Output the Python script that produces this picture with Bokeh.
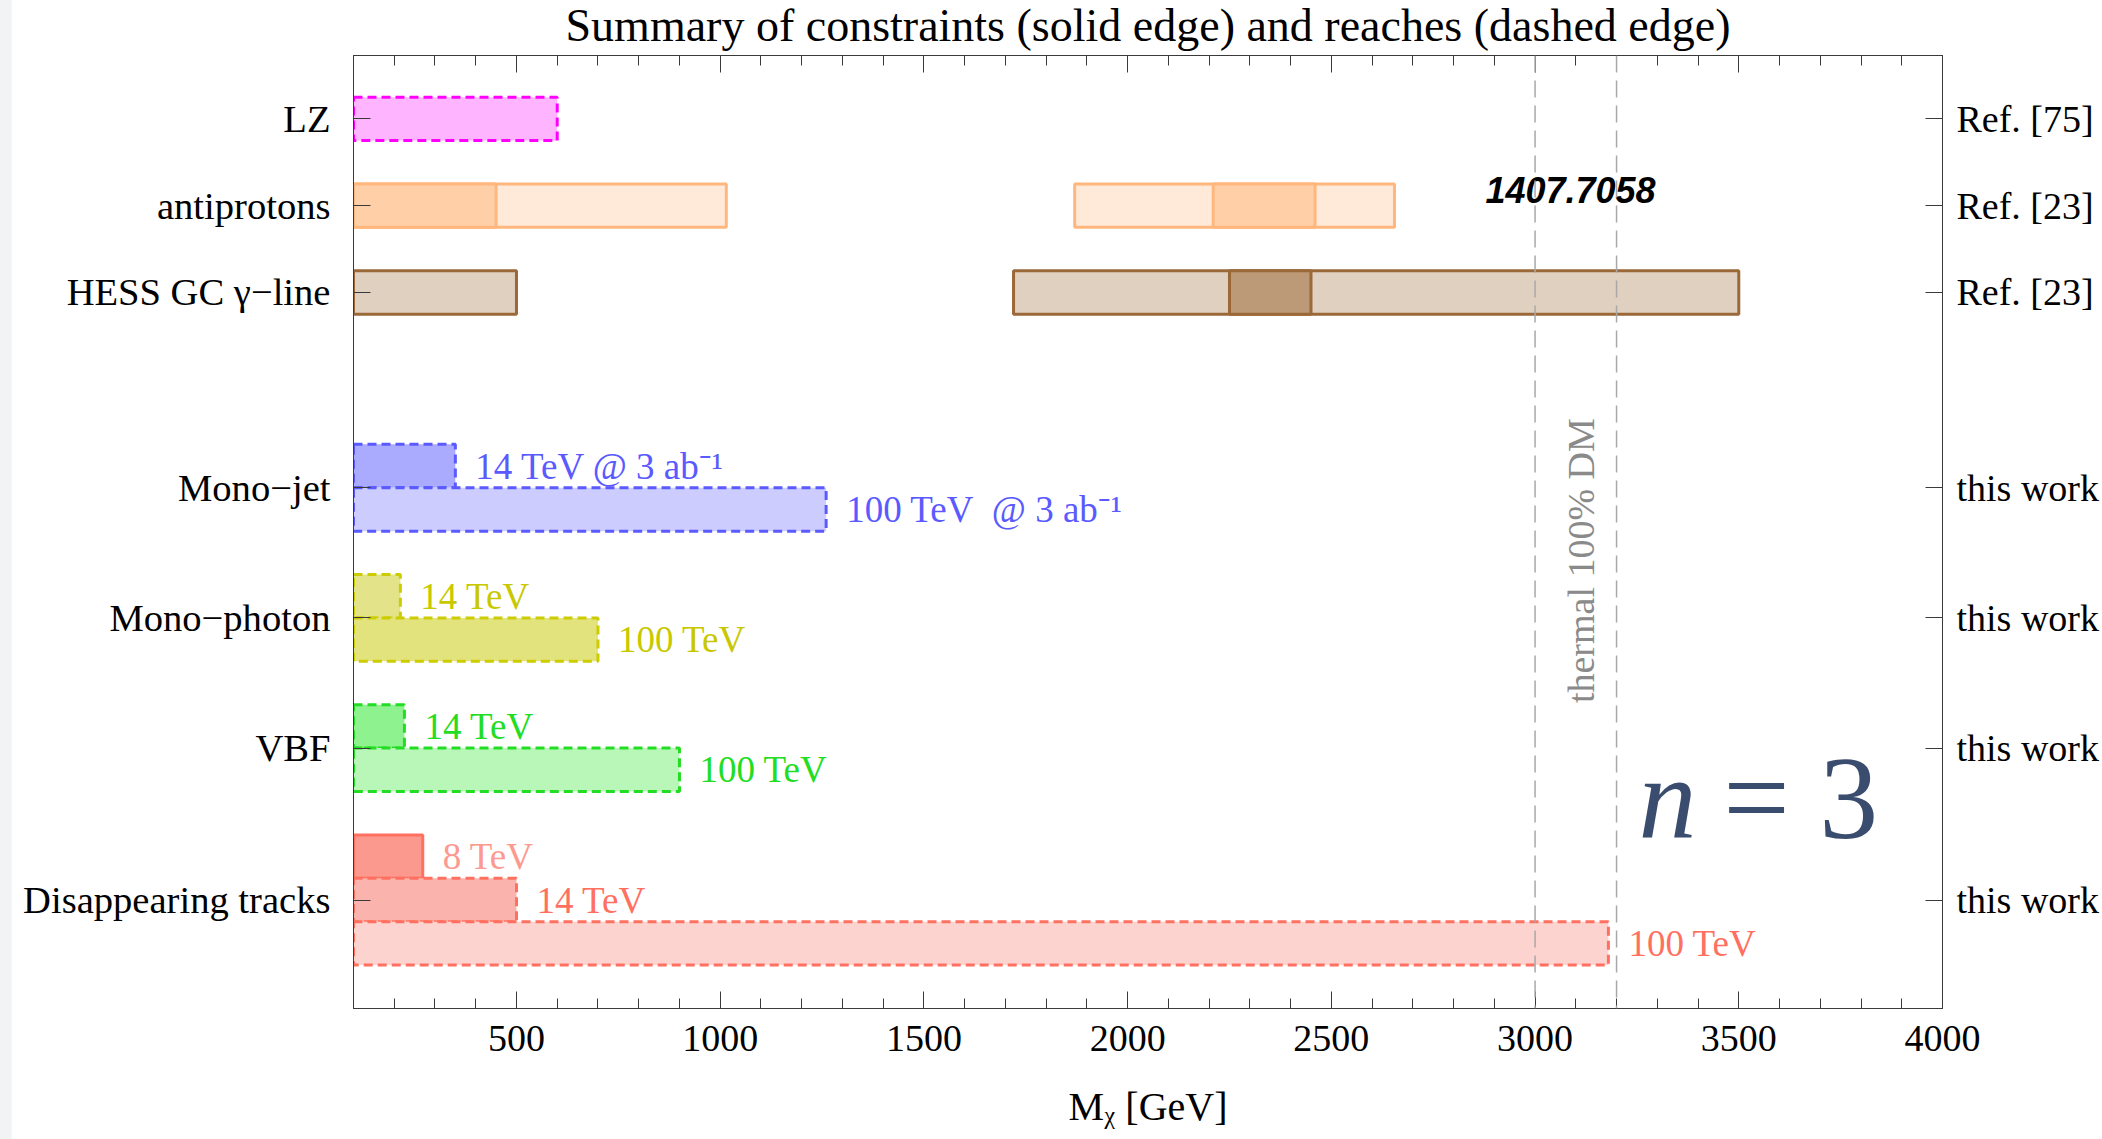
import math

from bokeh.plotting import figure
from bokeh.models import (Range1d, LinearAxis, FixedTicker, SingleIntervalTicker,
                          Span, ColumnDataSource, GlobalInlineStyleSheet)
from bokeh.core.properties import value
from bokeh.embed import file_html
from bokeh.resources import INLINE

SERIF = "Liberation Serif"

# ---------------------------------------------------------------- data
categories = ["LZ", "antiprotons", "HESS GC \u03b3\u2212line", "Mono\u2212jet",
              "Mono\u2212photon", "VBF", "Disappearing tracks"]
sources = ["Ref. [75]", "Ref. [23]", "Ref. [23]", "this work",
           "this work", "this work", "this work"]

mass_floor = 100            # GeV, lower end of every interval starting at the edge

lz_reach = 600

antiproton_lo = [100, 1870]
antiproton_hi = [1015, 2655]
antiproton_core_lo = [100, 2210]
antiproton_core_hi = [450, 2460]

hess_lo = [100, 1720]
hess_hi = [500, 3500]
hess_core_lo = [2250]
hess_core_hi = [2450]

monojet_energy = ["14 TeV @ 3 ab\u207b\u00b9", "100 TeV\u00a0 @ 3 ab\u207b\u00b9"]
monojet_reach = [350, 1260]
monophoton_energy = ["14 TeV", "100 TeV"]
monophoton_reach = [215, 700]
vbf_energy = ["14 TeV", "100 TeV"]
vbf_reach = [225, 900]
tracks_energy = ["8 TeV", "14 TeV", "100 TeV"]
tracks_reach = [270, 500, 3180]
tracks_existing = [True, False, False]   # 8 TeV is a constraint, the rest reaches

thermal_band = [3000, 3200]
fit_value = "1407.7058"

x_ticks = [500, 1000, 1500, 2000, 2500, 3000, 3500, 4000]

# ---------------------------------------------------------------- layout
row_y = [0, 2, 4, 8.5, 11.5, 14.5, 18]          # row centres, top to bottom
DASH = "9 5"
TOP_SHIFT = -7

p = figure(width=2091, height=1139 - TOP_SHIFT, output_backend="svg", toolbar_location=None,
           x_range=Range1d(100, 4000), y_range=Range1d(20.5, -1.46),
           min_border_left=342, min_border_right=160,
           min_border_top=53, min_border_bottom=131,
           title="Summary of constraints (solid edge) and reaches (dashed edge)")
p.margin = (TOP_SHIFT, 0, 0, 11)
p.stylesheets = [GlobalInlineStyleSheet(css="body { background: #f2f3f5; margin: 0; }")]
p.xgrid.grid_line_color = None
p.ygrid.grid_line_color = None
p.outline_line_color = "#3a3a3a"
p.background_fill_color = "white"
p.border_fill_color = "white"

p.title.align = "center"
p.title.text_font = SERIF
p.title.text_font_style = "normal"
p.title.text_font_size = "46px"
p.title.text_color = "black"
p.title.standoff = 9

AXIS_COLOR = "#3a3a3a"


def style_x(ax, labels=True):
    ax.ticker = SingleIntervalTicker(interval=500, num_minor_ticks=5)
    ax.major_tick_in = 17
    ax.major_tick_out = 0
    ax.minor_tick_in = 10
    ax.minor_tick_out = 0
    ax.axis_line_color = AXIS_COLOR
    ax.major_tick_line_color = AXIS_COLOR
    ax.minor_tick_line_color = AXIS_COLOR
    ax.major_label_text_font = SERIF
    ax.major_label_text_color = "black"
    if labels:
        ax.major_label_text_font_size = "38px"
        ax.major_label_standoff = 17
    else:
        ax.major_label_overrides = {t: "" for t in x_ticks}
        ax.major_label_text_font_size = "1px"
        ax.major_label_standoff = 0


def tick_key(v):
    return int(v) if float(v).is_integer() else v


def style_y(ax, names, standoff, size):
    ax.ticker = FixedTicker(ticks=row_y, minor_ticks=[])
    ax.major_label_overrides = {tick_key(v): s for v, s in zip(row_y, names)}
    ax.major_tick_in = 17
    ax.major_tick_out = 0
    ax.minor_tick_in = 0
    ax.minor_tick_out = 0
    ax.axis_line_color = AXIS_COLOR
    ax.major_tick_line_color = AXIS_COLOR
    ax.major_label_text_font = SERIF
    ax.major_label_text_font_size = size
    ax.major_label_text_color = "black"
    ax.major_label_standoff = standoff


style_x(p.xaxis[0])
p.xaxis[0].axis_label = "M\u1d6a [GeV]"
p.xaxis[0].axis_label_text_font = SERIF
p.xaxis[0].axis_label_text_font_style = "normal"
p.xaxis[0].axis_label_text_font_size = "40px"
p.xaxis[0].axis_label_text_color = "black"
p.xaxis[0].axis_label_standoff = 30
style_y(p.yaxis[0], categories, 23, "38.6px")

top_axis = LinearAxis()
style_x(top_axis, labels=False)
p.add_layout(top_axis, "above")

right_axis = LinearAxis()
style_y(right_axis, sources, 14, "38px")
p.add_layout(right_axis, "right")


def bars(ys, lefts, rights, fills, edge, dash, width=3):
    src = ColumnDataSource(dict(y=ys, left=lefts, right=rights, fill=fills))
    p.hbar(y="y", left="left", right="right", height=1, source=src,
           fill_color="fill", line_color=edge, line_width=width, line_dash=dash)


def bar_labels(ys, xs, texts, colors):
    src = ColumnDataSource(dict(x=xs, y=ys, text=texts, color=colors))
    p.text(x="x", y="y", text="text", source=src, x_offset=20,
           text_baseline="middle", text_align="left",
           text_font=value(SERIF), text_font_size="37px", text_color="color")


# indirect / direct detection rows
bars([row_y[0]], [mass_floor], [lz_reach], ["#ffb4ff"], "#ff00ff", DASH)

bars([row_y[1]] * 2, antiproton_lo, antiproton_hi, ["#ffe9d9"] * 2, "#ffb77d", "solid")
bars([row_y[1]] * 2, antiproton_core_lo, antiproton_core_hi, ["#ffd0a8"] * 2, "#ffb77d", "solid")

bars([row_y[2]] * 2, hess_lo, hess_hi, ["#e0d0c0"] * 2, "#9b6837", "solid")
bars([row_y[2]], hess_core_lo, hess_core_hi, ["#bc9a78"], "#9b6837", "solid")

# collider rows
two = [-0.5, 0.5]
three = [-1, 0, 1]

ys = [row_y[3] + d for d in two]
bars(ys, [mass_floor] * 2, monojet_reach, ["#aaaaff", "#ccccff"], "#5a5aff", DASH)
bar_labels(ys, monojet_reach, monojet_energy, ["#5a5aff"] * 2)

ys = [row_y[4] + d for d in two]
bars(ys, [mass_floor] * 2, monophoton_reach, ["#e3e38a", "#e3e37e"], "#cccc00", DASH)
bar_labels(ys, monophoton_reach, monophoton_energy, ["#c8c800"] * 2)

ys = [row_y[5] + d for d in two]
bars(ys, [mass_floor] * 2, vbf_reach, ["#8ef28e", "#b9f7b9"], "#22dd22", DASH)
bar_labels(ys, vbf_reach, vbf_energy, ["#22dd22"] * 2)

ys = [row_y[6] + d for d in three]
track_fills = ["#fb998f", "#fbb4ad", "#fcd3cf"]
for y, r, fill, existing in zip(ys, tracks_reach, track_fills, tracks_existing):
    bars([y], [mass_floor], [r], [fill], "#ff7060", "solid" if existing else DASH)
bar_labels(ys, tracks_reach, tracks_energy, ["#fc9a90", "#ff7060", "#ff7060"])

# thermal relic band
for m in thermal_band:
    p.add_layout(Span(location=m, dimension="height", line_color="#a8a8a8",
                      line_width=1.5, line_dash="17 8"))

p.text(x=[sum(thermal_band) / 2 + 12], y=[10.18], text=["thermal 100% DM"],
       angle=math.pi / 2, text_align="center", text_baseline="middle",
       text_font=value(SERIF), text_font_size="38px", text_color="#8a8a8a")

p.text(x=[3087], y=[1.65], text=[fit_value], text_align="center",
       text_baseline="middle", text_font=value("Liberation Sans"),
       text_font_style="bold italic", text_font_size="36px", text_color="black")

# n = 3 tag
p.text(x=[3254], y=[15.66], text=["n"], text_align="left", text_baseline="alphabetic",
       text_font=value(SERIF), text_font_style="italic", text_font_size="116px",
       text_color="#3a4d6e")
p.text(x=[3462], y=[15.66], text=["= 3"], text_align="left", text_baseline="alphabetic",
       text_font=value(SERIF), text_font_size="118px", text_color="#3a4d6e")

open("out.html", "w").write(file_html(p, INLINE))
